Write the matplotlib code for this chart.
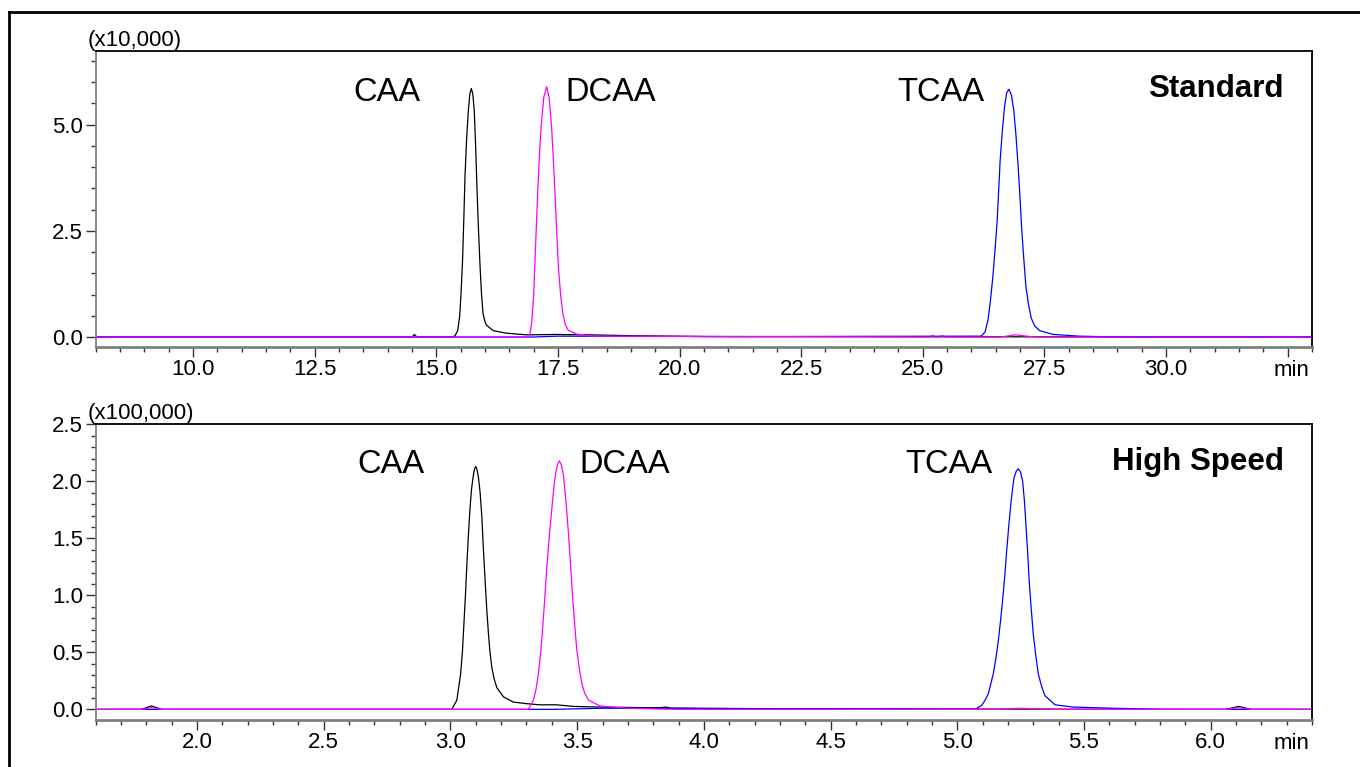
import matplotlib
matplotlib.use("Agg")
import matplotlib.pyplot as plt
from matplotlib.lines import Line2D
from matplotlib.ticker import MultipleLocator, FormatStrFormatter

plt.rcParams['font.family'] = ['Liberation Sans', 'DejaVu Sans']

# Standard method (x10,000) - time in min
std_caa_t = [8.0, 14.50, 14.55, 14.60, 15.30, 15.38, 15.44, 15.48, 15.51, 15.54, 15.565, 15.59, 15.625,
             15.66, 15.69, 15.72, 15.75, 15.78, 15.81, 15.84, 15.87, 15.90, 15.93, 15.96, 16.00,
             16.03, 16.17, 16.44, 16.86, 17.47, 18.16, 19.05, 20.5, 33.0]
std_caa_y = [0.0, 0.0, 0.06, 0.0, 0.0, 0.02, 0.15, 0.48, 1.05, 1.81, 2.75, 3.77, 4.70,
             5.34, 5.72, 5.85, 5.72, 5.34, 4.45, 3.38, 2.45, 1.65, 1.00, 0.56, 0.36,
             0.28, 0.15, 0.09, 0.05, 0.06, 0.05, 0.03, 0.01, 0.0]

std_dcaa_t = [8.0, 16.89, 16.93, 16.96, 17.00, 17.03, 17.06, 17.09, 17.125, 17.16, 17.21, 17.27,
              17.32, 17.37, 17.405, 17.44, 17.475, 17.51, 17.555, 17.60, 17.65, 17.71, 17.88, 18.22,
              25.15, 25.20, 25.25, 25.35, 25.40, 25.45, 26.6, 26.9, 27.3, 33.0]
std_dcaa_y = [0.0, 0.0, 0.10, 0.32, 0.95, 1.81, 2.70, 3.54, 4.40, 5.03, 5.65, 5.89,
              5.62, 4.95, 4.20, 3.38, 2.50, 1.65, 1.00, 0.56, 0.30, 0.16, 0.07, 0.02,
              0.0, 0.04, 0.0, 0.0, 0.04, 0.0, 0.0, 0.05, 0.0, 0.0]

std_tcaa_t = [8.0, 17.0, 17.5, 21.0, 26.20, 26.28, 26.34, 26.39, 26.44, 26.485, 26.53, 26.56,
              26.59, 26.635, 26.68, 26.725, 26.77, 26.82, 26.87, 26.915, 26.96, 27.00, 27.03,
              27.075, 27.12, 27.175, 27.23, 27.30, 27.40, 27.68, 28.22, 29.0, 33.0]
std_tcaa_y = [0.0, 0.0, 0.02, 0.01, 0.02, 0.12, 0.40, 0.85, 1.42, 2.05, 2.75, 3.45,
              4.16, 4.85, 5.42, 5.75, 5.83, 5.70, 5.34, 4.75, 4.01, 3.25, 2.60,
              1.85, 1.18, 0.75, 0.44, 0.26, 0.15, 0.06, 0.02, 0.0, 0.0]

# High speed method (x100,000)
hs_caa_t = [1.6, 1.78, 1.82, 1.86, 3.005, 3.025, 3.040, 3.047, 3.053, 3.059, 3.064, 3.070, 3.077,
            3.083, 3.090, 3.095, 3.100, 3.105, 3.110, 3.117, 3.124, 3.130, 3.137, 3.143, 3.150,
            3.156, 3.163, 3.172, 3.183, 3.209, 3.248, 3.301, 3.353, 3.419, 3.485, 3.590,
            3.774, 3.83, 3.85, 3.87, 4.3, 6.06, 6.11, 6.16, 6.4]
hs_caa_y = [0.0, 0.0, 0.03, 0.0, 0.0, 0.08, 0.31, 0.50, 0.75, 1.00, 1.24, 1.50, 1.76,
            1.93, 2.05, 2.11, 2.13, 2.10, 2.04, 1.90, 1.68, 1.40, 1.12, 0.88, 0.66,
            0.50, 0.37, 0.27, 0.19, 0.11, 0.064, 0.05, 0.04, 0.04, 0.026, 0.02,
            0.015, 0.015, 0.02, 0.012, 0.005, 0.0, 0.026, 0.0, 0.0]

hs_dcaa_t = [1.6, 1.78, 1.82, 1.86, 3.307, 3.327, 3.337, 3.347, 3.356, 3.364, 3.372, 3.380, 3.390,
             3.400, 3.408, 3.416, 3.423, 3.430, 3.438, 3.446, 3.456, 3.466, 3.475, 3.483, 3.491,
             3.499, 3.509, 3.519, 3.530, 3.545, 3.590, 3.695, 3.9, 5.15, 5.25, 5.4, 6.06, 6.11,
             6.16, 6.4]
hs_dcaa_y = [0.0, 0.0, 0.015, 0.0, 0.0, 0.08, 0.17, 0.31, 0.50, 0.72, 0.97, 1.24, 1.52,
             1.76, 1.95, 2.08, 2.15, 2.18, 2.14, 2.05, 1.82, 1.53, 1.23, 0.95, 0.72,
             0.51, 0.35, 0.22, 0.14, 0.08, 0.03, 0.01, 0.0, 0.0, 0.01, 0.0, 0.0, 0.015,
             0.0, 0.0]

hs_tcaa_t = [1.6, 3.4, 3.6, 4.2, 5.070, 5.096, 5.110, 5.123, 5.142, 5.152, 5.162, 5.171, 5.180,
             5.188, 5.195, 5.203, 5.211, 5.218, 5.224, 5.233, 5.241, 5.250, 5.258, 5.265, 5.271,
             5.278, 5.284, 5.292, 5.300, 5.310, 5.320, 5.333, 5.346, 5.386, 5.458, 5.616, 5.8, 6.4]
hs_tcaa_y = [0.0, 0.0, 0.01, 0.005, 0.0, 0.035, 0.08, 0.14, 0.31, 0.44, 0.60, 0.78, 0.98,
             1.18, 1.39, 1.60, 1.79, 1.93, 2.03, 2.09, 2.11, 2.08, 2.00, 1.83, 1.62,
             1.37, 1.12, 0.88, 0.66, 0.47, 0.31, 0.20, 0.12, 0.04, 0.02, 0.01, 0.0, 0.0]

peak_names = ['CAA', 'DCAA', 'TCAA']
std_label_x = [13.99, 18.59, 25.37]
hs_label_x = [2.765, 3.689, 4.967]

fig = plt.figure(figsize=(13.6, 7.67), dpi=100)

# outer frame (cut off at right and bottom)
x0, y0 = 9 / 1360, 1 - 12 / 767
fig.add_artist(Line2D([x0, x0], [-0.1, y0], color='black', lw=2, transform=fig.transFigure))
fig.add_artist(Line2D([x0, 1.1], [y0, y0], color='black', lw=2, transform=fig.transFigure))

ax1 = fig.add_axes([0.0704, 0.5476, 0.8943, 0.3859])
ax2 = fig.add_axes([0.0704, 0.0613, 0.8943, 0.3855])

def style_axes(ax, xlim, ylim, xmaj, xmin_, ymaj, ymin_, scale_txt):
	ax.set_xlim(*xlim)
	ax.set_ylim(*ylim)
	ax.xaxis.set_major_locator(MultipleLocator(xmaj))
	ax.xaxis.set_minor_locator(MultipleLocator(xmin_))
	ax.yaxis.set_major_locator(MultipleLocator(ymaj))
	ax.yaxis.set_minor_locator(MultipleLocator(ymin_))
	ax.xaxis.set_major_formatter(FormatStrFormatter('%.1f'))
	ax.yaxis.set_major_formatter(FormatStrFormatter('%.1f'))
	ax.tick_params(axis='both', which='major', length=7, width=1, color='#333333',
	               labelsize=16, pad=2)
	ax.tick_params(axis='both', which='minor', length=3.5, width=1, color='#333333')
	ax.spines['left'].set_color('#808080')
	ax.spines['bottom'].set_color('#808080')
	ax.spines['left'].set_linewidth(1.3)
	ax.spines['bottom'].set_linewidth(2)
	ax.spines['top'].set_linewidth(1.3)
	ax.spines['right'].set_linewidth(1.3)
	ax.text(-0.007, 1.0, scale_txt, transform=ax.transAxes, ha='left', va='bottom', fontsize=16)
	ax.text(0.983, -0.045, 'min', transform=ax.transAxes, ha='center', va='top', fontsize=16)

# Standard
ax1.plot(std_caa_t, std_caa_y, color='black', lw=0.9)
ax1.plot(std_tcaa_t, std_tcaa_y, color='#0000FF', lw=0.9)
ax1.plot(std_dcaa_t, std_dcaa_y, color='#FF00FF', lw=0.9)
style_axes(ax1, (8.0, 33.0), (-0.235, 6.73), 2.5, 0.5, 2.5, 0.5, '(x10,000)')
ticks = [t for t in ax1.get_xticks() if 8.0 <= t <= 33.0]
ax1.set_xticks(ticks)
ax1.set_xticklabels(['%.1f' % t if t < 32 else '' for t in ticks])
for name, lx in zip(peak_names, std_label_x):
	ax1.text(lx, 5.76, name, ha='center', va='center', fontsize=23.5)
ax1.text(0.977, 0.872, 'Standard', transform=ax1.transAxes, ha='right', va='center',
         fontsize=22.5, fontweight='bold')

# High speed
ax2.plot(hs_caa_t, hs_caa_y, color='black', lw=0.9)
ax2.plot(hs_tcaa_t, hs_tcaa_y, color='#0000FF', lw=0.9)
ax2.plot(hs_dcaa_t, hs_dcaa_y, color='#FF00FF', lw=0.9)
style_axes(ax2, (1.6, 6.4), (-0.093, 2.5), 0.5, 0.1, 0.5, 0.1, '(x100,000)')
for name, lx in zip(peak_names, hs_label_x):
	ax2.text(lx, 2.145, name, ha='center', va='center', fontsize=23.5)
ax2.text(0.977, 0.872, 'High Speed', transform=ax2.transAxes, ha='right', va='center',
         fontsize=22.5, fontweight='bold')

fig.savefig('out.png', dpi=100)
